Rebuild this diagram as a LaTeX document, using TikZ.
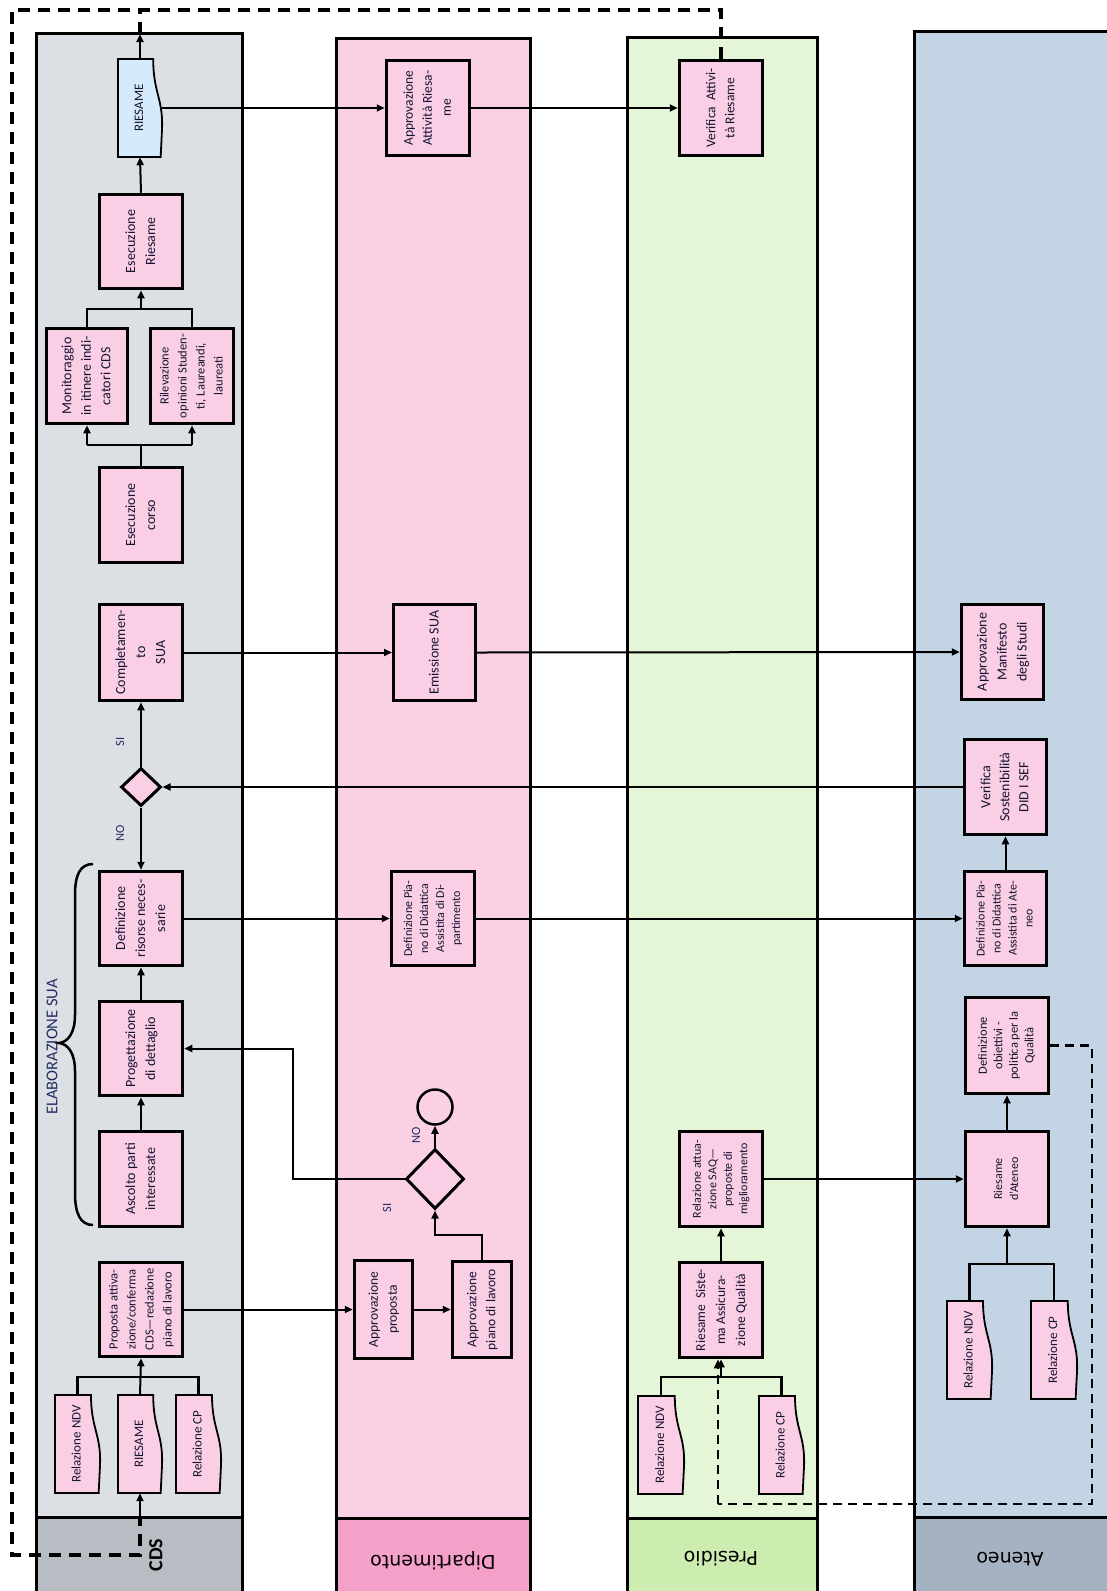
\documentclass[tikz,border=0pt]{standalone}
\usepackage{graphicx}
\usepackage{fontspec}
\setmainfont{Carlito}
\newfontfamily\hdrfont{DejaVu Sans}
\usetikzlibrary{arrows.meta,shapes.geometric,calc}
\definecolor{cdsbody}{RGB}{220,223,227}
\definecolor{cdshead}{RGB}{184,189,196}
\definecolor{dipbody}{RGB}{250,208,228}
\definecolor{diphead}{RGB}{245,160,200}
\definecolor{presbody}{RGB}{228,245,216}
\definecolor{preshead}{RGB}{205,236,176}
\definecolor{atbody}{RGB}{195,213,229}
\definecolor{athead}{RGB}{164,178,193}
\definecolor{nodepink}{RGB}{250,206,228}
\definecolor{riesblue}{RGB}{213,234,250}
\definecolor{txt}{RGB}{20,20,50}
\definecolor{labblue}{RGB}{35,45,100}
\newcommand\vt[3]{\rotatebox{90}{\fontsize{#1}{#2}\selectfont\begin{tabular}{@{}c@{}}#3\end{tabular}}}
\newcommand\docshape[5]{%
  \draw[docline, fill=#5] (#1,#2) -- ({#1+0.8*#3},#2)
    .. controls ({#1+0.8*#3},{#2+0.35*#4}) and ({#1+1.03*#3},{#2+0.4*#4}) .. ({#1+#3},{#2+0.72*#4})
    .. controls ({#1+0.99*#3},{#2+0.86*#4}) .. ({#1+0.97*#3},{#2+#4}) -- (#1,{#2+#4}) -- cycle;}
\begin{document}
\begin{tikzpicture}[x=1pt,y=-1pt,
  lane/.style={draw=black, line width=3pt},
  box/.style={draw=black, line width=3.5pt, fill=nodepink, inner sep=0pt, text=txt},
  docline/.style={draw=black, line width=1.8pt},
  doctext/.style={inner sep=0pt, text=txt},
  conn/.style={draw=black, line width=2pt, -{Triangle[length=8pt,width=7pt]}},
  bline/.style={draw=black, line width=2.5pt},
  loopdash/.style={draw=black, line width=3.5pt, dash pattern=on 12pt off 8pt},
  adash/.style={draw=black, line width=2.5pt, dash pattern=on 9pt off 6pt},
  lbl/.style={inner sep=0pt, text=labblue}]
\useasboundingbox (0,0) rectangle (1107,1591);
\clip (0,0) rectangle (1107,1591);
% lanes
\draw[lane, fill=cdsbody] (36,33) rectangle (242,1517);
\draw[lane, fill=cdshead] (36,1517) rectangle (242,1600);
\draw[lane, fill=dipbody] (336,38) rectangle (530,1518);
\draw[lane, fill=diphead] (336,1518) rectangle (530,1600);
\draw[lane, fill=presbody] (627,37) rectangle (817,1518);
\draw[lane, fill=preshead] (627,1518) rectangle (817,1600);
\draw[lane, fill=atbody] (914,31) rectangle (1120,1517);
\draw[lane, fill=athead] (914,1517) rectangle (1120,1600);
% lane headers
\node[inner sep=0pt] (hcds) at (156,1555) {\rotatebox{90}{\fontsize{20}{24}\selectfont\bfseries CDS}};
\node[inner sep=0pt] (hdip) at (433,1561) {\rotatebox{180}{\hdrfont\fontsize{19}{23}\selectfont Dipartimento}};
\node[inner sep=0pt] (hpres) at (721,1559) {\rotatebox{180}{\hdrfont\fontsize{19}{23}\selectfont Presidio}};
\node[inner sep=0pt] (hat) at (1010,1559) {\rotatebox{180}{\hdrfont\fontsize{19}{23}\selectfont Ateneo}};
% documents
\docshape{118}{59}{44}{98}{riesblue}
\node[doctext, minimum width=44, minimum height=98] (riesB) at (140,108) {\vt{13}{16}{RIESAME}};
\docshape{55}{1395}{45}{98}{nodepink}
\node[doctext, minimum width=45, minimum height=98] (ndv1) at (77.5,1444) {\vt{13}{16}{Relazione NDV}};
\docshape{118}{1395}{44}{98}{nodepink}
\node[doctext, minimum width=44, minimum height=98] (ries1) at (140,1444) {\vt{13}{16}{RIESAME}};
\docshape{176}{1395}{45}{98}{nodepink}
\node[doctext, minimum width=45, minimum height=98] (cp1) at (198.5,1444) {\vt{13}{16}{Relazione CP}};
\docshape{638}{1396}{46}{98}{nodepink}
\node[doctext, minimum width=46, minimum height=98] (ndv2) at (661,1445) {\vt{13}{16}{Relazione NDV}};
\docshape{759}{1396}{45}{98}{nodepink}
\node[doctext, minimum width=45, minimum height=98] (cp2) at (781.5,1445) {\vt{13}{16}{Relazione CP}};
\docshape{947}{1301}{45}{98}{nodepink}
\node[doctext, minimum width=45, minimum height=98] (ndv3) at (969.5,1350) {\vt{13}{16}{Relazione NDV}};
\docshape{1031}{1301}{46}{98}{nodepink}
\node[doctext, minimum width=46, minimum height=98] (cp3) at (1054,1350) {\vt{13}{16}{Relazione CP}};
% CDS boxes
\node[box, minimum width=83, minimum height=94] (esecR) at (141,241.5) {\vt{14}{20}{Esecuzione\\Riesame}};
\node[box, minimum width=81, minimum height=95] (monit) at (87,376) {\vt{14}{19.5}{Monitoraggio\\in itinere indi-\\catori CDS}};
\node[box, minimum width=83, minimum height=95] (rilev) at (192,376) {\vt{12.5}{18}{Rilevazione\\opinioni Studen-\\ti, Laureandi,\\laureati}};
\node[box, minimum width=83, minimum height=95] (esecC) at (141,515) {\vt{14}{20}{Esecuzione\\corso}};
\node[box, minimum width=83, minimum height=96] (compl) at (141,652.5) {\vt{14}{20}{Completamen-\\to\\SUA}};
\node[diamond, draw=black, line width=3pt, fill=nodepink, minimum width=40, minimum height=38, inner sep=0pt] (dia1) at (141,787) {};
\node[box, minimum width=83, minimum height=94] (defR) at (141,918.5) {\vt{14}{20}{Definizione\\risorse neces-\\sarie}};
\node[box, minimum width=83, minimum height=94] (prog) at (141,1048.5) {\vt{14}{20}{Progettazione\\di dettaglio}};
\node[box, minimum width=83, minimum height=95] (asc) at (141,1179) {\vt{14}{20}{Ascolto parti\\interessate}};
\node[box, minimum width=83, minimum height=94] (prop) at (141,1309.5) {\vt{12.5}{18}{Proposta attiva-\\zione/conferma\\CDS—redazione\\piano di lavoro}};
% labels CDS
\node[lbl] (si1) at (120,742) {\rotatebox{90}{\fontsize{12.5}{15}\selectfont SI}};
\node[lbl] (no1) at (120,833) {\rotatebox{90}{\fontsize{12.5}{15}\selectfont NO}};
\node[lbl] (elab) at (52,1047) {\rotatebox{90}{\fontsize{16.5}{19}\selectfont ELABORAZIONE SUA}};
\draw[line width=2.5pt] (93,864) .. controls (80,864) and (75,875) .. (75,895) -- (75,1015)
  .. controls (75,1033) and (68,1042) .. (59,1043) .. controls (68,1044) and (75,1053) .. (75,1071)
  -- (75,1193) .. controls (75,1213) and (80,1225) .. (93,1225);
% Dipartimento boxes
\node[box, minimum width=83, minimum height=95] (appAR) at (428,108) {\vt{13.5}{19}{Approvazione\\Attività Riesa-\\me}};
\node[box, minimum width=82, minimum height=96, line width=3pt] (emis) at (434.5,652.5) {\vt{14}{20}{Emissione SUA}};
\node[box, minimum width=83, minimum height=94] (defPD) at (433,918.5) {\vt{12}{16}{Definizione Pia-\\no di Didattica\\Assistita di Di-\\partimento}};
\node[circle, draw=black, line width=2.5pt, fill=dipbody, minimum size=35, inner sep=0pt] (circ) at (435,1107) {};
\node[diamond, draw=black, line width=3pt, fill=nodepink, minimum width=58, minimum height=60, inner sep=0pt] (dia2) at (435,1179) {};
\node[lbl] (no2) at (416,1135) {\rotatebox{90}{\fontsize{12.5}{15}\selectfont NO}};
\node[lbl] (si2) at (387,1208) {\rotatebox{90}{\fontsize{12.5}{15}\selectfont SI}};
\node[box, minimum width=58, minimum height=98] (appP) at (383.5,1309.5) {\vt{13.5}{19}{Approvazione\\proposta}};
\node[box, minimum width=59, minimum height=96] (appPL) at (482,1309.5) {\vt{13.5}{19}{Approvazione\\piano di lavoro}};
% Presidio boxes
\node[box, minimum width=83, minimum height=95] (verif) at (721,108) {\vt{13.5}{19}{Verifica\ \ Attivi-\\tà Riesame}};
\node[box, minimum width=83, minimum height=95] (relAtt) at (721,1179) {\vt{12}{15.5}{Relazione attua-\\zione SAQ—\\proposte di\\miglioramento}};
\node[box, minimum width=83, minimum height=95] (riesSis) at (721,1310) {\vt{13.5}{20}{Riesame\ \ Siste-\\ma Assicura-\\zione Qualità}};
% Ateneo boxes
\node[box, minimum width=82, minimum height=95] (appMan) at (1002.5,652) {\vt{14}{20}{Approvazione\\Manifesto\\degli Studi}};
\node[box, minimum width=82, minimum height=95] (verSost) at (1005.5,787) {\vt{14}{19}{Verifica\\Sostenibilità\\DID I SEF}};
\node[box, minimum width=82, minimum height=94] (defPA) at (1005.5,918.5) {\vt{12}{16}{Definizione Pia-\\no di Didattica\\Assistita di Ate-\\neo}};
\node[box, minimum width=83, minimum height=96] (defObj) at (1007,1045.5) {\vt{12.5}{15.5}{Definizione\\obiettivi -\\politica per la\\Qualità}};
\node[box, minimum width=83, minimum height=95] (riesAt) at (1007,1179) {\vt{12}{16}{Riesame\\d’Ateneo}};
% helper coordinates
\coordinate (j1) at (0,309);
\coordinate (j2) at (0,445);
\coordinate (b1) at (0,1377);
\coordinate (b3) at (0,1264);
\coordinate (k1) at (293,0);
\coordinate (k2) at (0,1235);
\coordinate (riesTop) at (140,34);
\coordinate (lpTL) at (12,10);
\coordinate (lpBL) at (12,1555);
\coordinate (lpBR) at (140,1555);
\coordinate (lpUp) at (140,1519);
\coordinate (aq1) at (1092,0);
\coordinate (aq2) at (0,1504);
% CDS connectors
\draw[conn] (esecR.north) -- (riesB.south);
\draw[conn] (riesB.north) -- (riesTop);
\draw[bline] (monit.north) -- (monit.north |- j1) -- (rilev.north |- j1) -- (rilev.north);
\draw[conn] (esecR.south |- j1) -- (esecR.south);
\draw[bline] (esecC.north) -- (esecC.north |- j2);
\draw[bline] (monit.south |- j2) -- (rilev.south |- j2);
\draw[conn] (monit.south |- j2) -- (monit.south);
\draw[conn] (rilev.south |- j2) -- (rilev.south);
\draw[conn] (dia1.north) -- (compl.south);
\draw[conn] (dia1.south) -- (defR.north);
\draw[conn] (prog.north) -- (defR.south);
\draw[conn] (asc.north) -- (prog.south);
\draw[bline] (ndv1.north) -- (ndv1.north |- b1) -- (cp1.north |- b1) -- (cp1.north);
\draw[conn] (ries1.north) -- (prop.south);
% cross-lane connectors
\draw[conn] (riesB.east) -- (appAR.west);
\draw[conn] (appAR.east) -- (verif.west);
\draw[conn] (compl.east) -- (emis.west);
\draw[conn] (emis.east) -- (appMan.west);
\draw[conn] (verSost.west) -- (dia1.east);
\draw[conn] (defR.east) -- (defPD.west);
\draw[conn] (defPD.east) -- (defPA.west);
\draw[conn] (defPA.north) -- (verSost.south);
\draw[conn] (dia2.west) -- (dia2.west -| k1) |- (prog.east);
\draw[conn] (dia2.north) -- (circ.south);
\draw[conn] (appPL.north) -- (appPL.north |- k2) -| (dia2.south);
\draw[conn] (prop.east) -- (appP.west);
\draw[conn] (appP.east) -- (appPL.west);
% Presidio / Ateneo connectors
\draw[bline] (ndv2.north) -- (ndv2.north |- b1) -- (cp2.north |- b1) -- (cp2.north);
\draw[conn] (riesSis.south |- b1) -- (riesSis.south);
\draw[conn] (riesSis.north) -- (relAtt.south);
\draw[conn] (relAtt.east) -- (riesAt.west);
\draw[bline] (ndv3.north) -- (ndv3.north |- b3) -- (cp3.north |- b3) -- (cp3.north);
\draw[conn] (riesAt.south |- b3) -- (riesAt.south);
\draw[conn] (riesAt.north) -- (defObj.south);
% dashed loops
\draw[loopdash] (verif.north) -- (verif.north |- lpTL) -- (lpTL) -- (lpBL) -- (lpBR) -- (lpUp);
\draw[loopdash] (riesTop) -- (riesTop |- lpTL);
\draw[conn] (lpUp) -- (ries1.south);
\draw[adash] (defObj.east) -- (defObj.east -| aq1) -- (aq1 |- aq2) -- ([xshift=-3pt]riesSis.south |- aq2);
\draw[adash, -{Triangle[length=9pt,width=8pt]}] ([xshift=-3pt]riesSis.south |- aq2) -- ([xshift=-3pt]riesSis.south);
\end{tikzpicture}
\end{document}
